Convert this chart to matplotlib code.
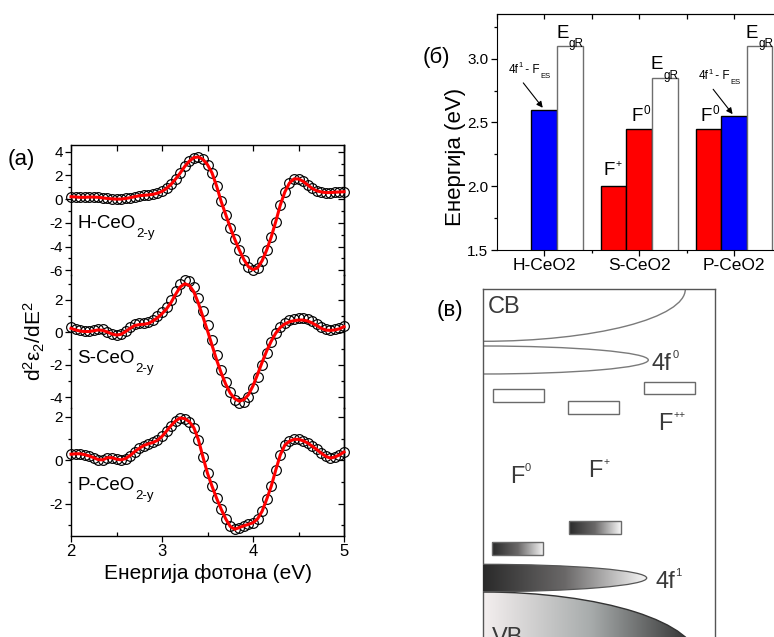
import numpy as np
import matplotlib
matplotlib.use('Agg')
import matplotlib.pyplot as plt
from matplotlib.patches import Rectangle, Ellipse, Arc
from matplotlib.ticker import MultipleLocator, FixedLocator, FormatStrFormatter
from matplotlib.colors import LinearSegmentedColormap

plt.rcParams['font.family'] = ['Liberation Sans', 'DejaVu Sans']
plt.rcParams['mathtext.default'] = 'regular'
plt.rcParams['axes.unicode_minus'] = False

# ---------------- data: panel (a) ----------------
energy = [2.00, 2.05, 2.10, 2.15, 2.20, 2.25, 2.30, 2.35, 2.40, 2.45,
          2.50, 2.55, 2.60, 2.65, 2.70, 2.75, 2.80, 2.85, 2.90, 2.95,
          3.00, 3.05, 3.10, 3.15, 3.20, 3.25, 3.30, 3.35, 3.40, 3.45,
          3.50, 3.55, 3.60, 3.65, 3.70, 3.75, 3.80, 3.85, 3.90, 3.95,
          4.00, 4.05, 4.10, 4.15, 4.20, 4.25, 4.30, 4.35, 4.40, 4.45,
          4.50, 4.55, 4.60, 4.65, 4.70, 4.75, 4.80, 4.85, 4.90, 4.95, 5.00]

h_data = [0.20, 0.18, 0.15, 0.15, 0.17, 0.17, 0.15, 0.10, 0.05, 0.02,
          0.00, 0.00, 0.05, 0.12, 0.20, 0.28, 0.32, 0.35, 0.40, 0.50,
          0.65, 0.90, 1.25, 1.70, 2.20, 2.75, 3.20, 3.50, 3.55, 3.35,
          2.90, 2.20, 1.10, -0.20, -1.30, -2.40, -3.40, -4.30, -5.10, -5.70,
          -5.95, -5.80, -5.20, -4.30, -3.20, -1.90, -0.50, 0.60, 1.35, 1.70,
          1.70, 1.50, 1.20, 0.90, 0.70, 0.60, 0.55, 0.55, 0.58, 0.60, 0.62]
h_fit = h_data

s_data = [0.30, 0.20, 0.12, 0.08, 0.10, 0.15, 0.22, 0.18, 0.05, -0.08,
          -0.15, -0.08, 0.10, 0.32, 0.50, 0.55, 0.55, 0.62, 0.78, 1.00,
          1.25, 1.55, 2.00, 2.55, 3.00, 3.22, 3.15, 2.80, 2.15, 1.30,
          0.45, -0.45, -1.40, -2.30, -3.05, -3.70, -4.15, -4.38, -4.30, -4.00,
          -3.45, -2.75, -2.00, -1.25, -0.60, -0.05, 0.32, 0.58, 0.75, 0.85,
          0.90, 0.90, 0.82, 0.68, 0.50, 0.30, 0.18, 0.15, 0.18, 0.25, 0.38]
s_fit = [0.25, 0.15, 0.08, 0.05, 0.05, 0.10, 0.15, 0.12, 0.02, -0.10,
         -0.17, -0.12, 0.05, 0.25, 0.42, 0.48, 0.50, 0.55, 0.70, 0.90,
         1.15, 1.45, 1.85, 2.35, 2.80, 3.00, 2.90, 2.50, 1.80, 0.95,
         0.10, -0.80, -1.70, -2.50, -3.20, -3.75, -4.10, -4.25, -4.15, -3.85,
         -3.30, -2.60, -1.85, -1.15, -0.55, -0.05, 0.30, 0.52, 0.65, 0.72,
         0.76, 0.76, 0.70, 0.58, 0.42, 0.25, 0.14, 0.12, 0.15, 0.22, 0.35]

p_data = [0.28, 0.30, 0.30, 0.26, 0.20, 0.12, 0.03, 0.02, 0.12, 0.12,
          0.05, 0.02, 0.08, 0.22, 0.40, 0.55, 0.68, 0.76, 0.82, 0.92,
          1.10, 1.35, 1.60, 1.82, 1.95, 1.92, 1.78, 1.50, 0.95, 0.15,
          -0.60, -1.20, -1.75, -2.25, -2.70, -3.05, -3.18, -3.10, -3.02, -2.95,
          -2.88, -2.70, -2.35, -1.80, -1.20, -0.45, 0.25, 0.70, 0.88, 0.96,
          0.97, 0.90, 0.80, 0.65, 0.50, 0.33, 0.18, 0.10, 0.15, 0.25, 0.38]
p_fit = p_data

sample_names = ['H-CeO', 'S-CeO', 'P-CeO']
sample_sub = '2-y'

# ---------------- data: panel (б) ----------------
bar_groups = ['H-CeO2', 'S-CeO2', 'P-CeO2']
bar_values = [[2.60, 3.10], [2.00, 2.45, 2.85], [2.45, 2.55, 3.10]]
bar_kinds = [['4f', 'EgR'], ['F+', 'F0', 'EgR'], ['F0', '4f', 'EgR']]

# ---------------- figure ----------------
W, H = 774, 637
fig = plt.figure(figsize=(W / 100, H / 100), dpi=100)


def axes_px(left, top, right, bottom):
    return fig.add_axes([left / W, 1 - bottom / H, (right - left) / W, (bottom - top) / H])


def rich(ax, x, y, main, script, kind, size, ssize, color='black', transform=None,
         dx=0.5, **kw):
    t = ax.text(x, y, main, fontsize=size, color=color,
                transform=transform if transform is not None else ax.transData, **kw)
    if kind == 'sub':
        ax.annotate(script, xy=(1, 0), xycoords=t, xytext=(dx, size * 0.2),
                    textcoords='offset points', fontsize=ssize, color=color,
                    ha='left', va='top')
    else:
        ax.annotate(script, xy=(1, 1), xycoords=t, xytext=(dx, size * 0.12),
                    textcoords='offset points', fontsize=ssize, color=color,
                    ha='left', va='top')
    return t


# ---------------- panel (a) ----------------
ax_h = axes_px(71, 145, 344, 275)
ax_s = axes_px(71, 275, 344, 408)
ax_p = axes_px(71, 408, 344, 536)
panels = [(ax_h, h_data, h_fit, (-6.4, 4.56), 0.362),
          (ax_s, s_data, s_fit, (-4.67, 3.54), 0.338),
          (ax_p, p_data, p_fit, (-3.49, 2.41), 0.359)]

for i, (ax, dat, fit, yl, ylab) in enumerate(panels):
    ax.patch.set_visible(False)
    ax.plot(energy, dat, 'o', ms=7, mfc='none', mec='black', mew=0.85,
            clip_on=False, zorder=2)
    ax.plot(energy, fit, '-', color='red', lw=2.2, clip_on=False, zorder=3)
    ax.set_xlim(2, 5)
    ax.set_ylim(*yl)
    ax.yaxis.set_major_locator(MultipleLocator(2))
    ax.yaxis.set_minor_locator(MultipleLocator(1))
    ax.tick_params(axis='y', which='major', direction='out', length=4, width=0.9,
                   labelsize=11, pad=2, right=False)
    ax.tick_params(axis='y', which='minor', direction='out', length=2.5, width=0.9, right=False)
    sec = ax.secondary_yaxis('right')
    sec.yaxis.set_major_locator(MultipleLocator(2))
    sec.yaxis.set_minor_locator(MultipleLocator(1))
    sec.tick_params(which='major', direction='in', length=4, width=0.9, labelright=False)
    sec.tick_params(which='minor', direction='in', length=2.5, width=0.9)
    for sp in ax.spines.values():
        sp.set_linewidth(1.0)
    sec.spines['right'].set_linewidth(1.0)
    rich(ax, 0.022, ylab, sample_names[i], sample_sub, 'sub', 13.5, 9.5,
         transform=ax.transAxes, va='baseline', ha='left')

ax_h.spines['bottom'].set_visible(False)
ax_h.xaxis.set_major_locator(MultipleLocator(0.5))
ax_h.tick_params(axis='x', which='both', direction='in', top=True, bottom=False,
                 labelbottom=False, length=4, width=0.9)
ax_s.spines['bottom'].set_visible(False)
ax_s.spines['top'].set_visible(False)
ax_s.tick_params(axis='x', which='both', top=False, bottom=False, labelbottom=False)
ax_p.spines['top'].set_visible(False)
ax_p.xaxis.set_major_locator(MultipleLocator(1))
ax_p.xaxis.set_minor_locator(MultipleLocator(0.5))
ax_p.tick_params(axis='x', which='major', direction='out', length=4, width=0.9,
                 labelsize=12, pad=2)
ax_p.tick_params(axis='x', which='minor', direction='in', length=3, width=0.9)

fig.text(34 / W, 1 - 341 / H, r'd$^2$ε$_2$/dE$^2$', rotation=90, fontsize=15,
         ha='center', va='center')
fig.text(208 / W, 1 - 573 / H, 'Енергија фотона (eV)', fontsize=15,
         ha='center', va='center')
fig.text(8 / W, 1 - 159 / H, '(a)', fontsize=16, ha='left', va='center')

# ---------------- panel (б) ----------------
ax_b = axes_px(496.7, 14, 781.5, 250)
colors = {'4f': '#0000ff', 'F+': '#ff0000', 'F0': '#ff0000', 'EgR': 'white'}
width = 0.27
for g, (vals, kinds) in enumerate(zip(bar_values, bar_kinds)):
    n = len(vals)
    center = g + 1
    for k, (v, kind) in enumerate(zip(vals, kinds)):
        x = center + (k - (n - 2)) * width
        ec = '#6e6e6e' if kind == 'EgR' else 'black'
        ax_b.bar(x, v, width=width, color=colors[kind], edgecolor=ec, linewidth=1.0,
                 zorder=2)
        if kind == 'EgR':
            rich(ax_b, x - 0.145, v + 0.065, 'E', 'gR', 'sub', 13.5, 8.5, dx=0.2,
                 va='baseline', ha='left')
        elif kind == 'F+':
            rich(ax_b, x - 0.11, v + 0.09, 'F', '+', 'sup', 13.5, 7.5, va='baseline', ha='left')
        elif kind == 'F0':
            rich(ax_b, x - 0.085, v + 0.065, 'F', '0', 'sup', 13.5, 8.5, va='baseline', ha='left')
        elif kind == '4f':
            t = ax_b.text(x - 0.27, v + 0.29, '4f', fontsize=8.5, ha='right', va='baseline')
            ax_b.annotate('1', xy=(1, 1), xycoords=t, xytext=(0.3, 1.0),
                          textcoords='offset points', fontsize=5.5, va='top')
            t2 = ax_b.annotate(' - F', xy=(1, 0), xycoords=t, xytext=(2.5, 0),
                               textcoords='offset points', fontsize=8.5, va='bottom')
            ax_b.annotate('ES', xy=(1, 0), xycoords=t2, xytext=(0.5, 2.2),
                          textcoords='offset points', fontsize=5.5, va='top')
            ax_b.annotate('', xy=(x - 0.015, v + 0.015), xytext=(x - 0.22, v + 0.21),
                          arrowprops=dict(arrowstyle='-|>', color='black', lw=0.8,
                                          mutation_scale=9, shrinkA=0, shrinkB=0))

ax_b.set_xlim(0.5, 3.5)
ax_b.set_ylim(1.5, 3.35)
ax_b.xaxis.set_major_locator(FixedLocator([1, 2, 3]))
ax_b.set_xticklabels(bar_groups)
ax_b.xaxis.set_minor_locator(FixedLocator([1.5, 2.5]))
ax_b.yaxis.set_major_locator(MultipleLocator(0.5))
ax_b.yaxis.set_minor_locator(MultipleLocator(0.25))
ax_b.yaxis.set_major_formatter(FormatStrFormatter('%.1f'))
ax_b.tick_params(axis='x', which='major', direction='out', length=4, width=0.9,
                 labelsize=12.5, pad=2)
ax_b.tick_params(axis='x', which='minor', direction='out', length=2.5, width=0.9)
ax_b.tick_params(axis='y', which='major', direction='out', length=4, width=0.9,
                 labelsize=11, pad=2)
ax_b.tick_params(axis='y', which='minor', direction='out', length=2.5, width=0.9)
secb = ax_b.secondary_xaxis('top')
secb.xaxis.set_major_locator(MultipleLocator(0.5))
secb.tick_params(direction='in', length=3.5, width=0.9, labeltop=False)
fig.text(455 / W, 1 - 157 / H, 'Енергија (eV)', rotation=90, fontsize=16,
         ha='center', va='center')
fig.text(423 / W, 1 - 57 / H, '(б)', fontsize=16, ha='left', va='center')

# ---------------- panel (в) : schematic ----------------
ax_c = axes_px(483.3, 289.3, 715, 637)
ax_c.set_xticks([])
ax_c.set_yticks([])
for sp in ax_c.spines.values():
    sp.set_color('#555555')
    sp.set_linewidth(1.0)
ax_c.spines['bottom'].set_visible(False)

grad = np.linspace(0, 1, 256).reshape(1, -1)
dark_light = LinearSegmentedColormap.from_list('dl', ['#2a2a2a', '#6a6868', '#f6f6f6'])
light_dark = LinearSegmentedColormap.from_list('ld', ['#f4efef', '#a8acac', '#2a2a2a'])
txtc = '#3a3a3a'

# conduction band
ax_c.add_patch(Arc((0, 0), 404, 104, theta1=0, theta2=90, color='#7a7a7a', lw=1.0))
# 4f0 band
ax_c.add_patch(Ellipse((0, 70.7), 330, 28, fc='none', ec='#7a7a7a', lw=1.0))
# empty defect levels
for (x0, y0, w, h) in [(10, 100, 51, 13), (85, 111.7, 50.7, 13), (161, 92.4, 50.7, 12.6)]:
    ax_c.add_patch(Rectangle((x0, y0), w, h, fc='white', ec='#6a6a6a', lw=1.0))
# filled defect levels (gradient)
for (x0, y0, w, h) in [(8.4, 253, 51, 12.7), (86, 231.7, 51.4, 13)]:
    ax_c.imshow(grad, extent=(x0, x0 + w, y0 + h, y0), cmap=dark_light, aspect='auto',
                zorder=2)
    ax_c.add_patch(Rectangle((x0, y0), w, h, fc='none', ec='#6a6a6a', lw=1.0, zorder=3))
# valence band
vb = Ellipse((0, 370.7), 429.2, 136, fc='none', ec='#333333', lw=1.0, zorder=3)
ax_c.add_patch(vb)
im_vb = ax_c.imshow(grad, extent=(0, 215, 347.7, 302.7), cmap=light_dark, aspect='auto',
                    zorder=2)
im_vb.set_clip_path(vb)
# 4f1 band
f1 = Ellipse((0, 288.7), 326.8, 27.4, fc='none', ec='#555555', lw=0.9, zorder=4)
ax_c.add_patch(f1)
im_f1 = ax_c.imshow(grad, extent=(0, 163.4, 302.4, 275), cmap=dark_light, aspect='auto',
                    zorder=3)
im_f1.set_clip_path(f1)

ax_c.set_xlim(0, 231.7)
ax_c.set_ylim(347.7, 0)

ax_c.text(4.7, 6.5, 'CB', fontsize=17, color=txtc, ha='left', va='top')
ax_c.text(8.7, 355, 'VB', fontsize=17, color=txtc, ha='left', va='baseline')
rich(ax_c, 168.7, 81, '4f', '0', 'sup', 17, 8, color=txtc, ha='left', va='baseline')
rich(ax_c, 26.7, 194, 'F', '0', 'sup', 17, 8, color=txtc, ha='left', va='baseline')
rich(ax_c, 104.7, 188, 'F', '+', 'sup', 17, 7.5, color=txtc, ha='left', va='baseline')
rich(ax_c, 174.7, 141, 'F', '++', 'sup', 17, 7.5, color=txtc, ha='left', va='baseline')
rich(ax_c, 171.7, 299, '4f', '1', 'sup', 17, 8, color=txtc, ha='left', va='baseline')
fig.text(437 / W, 1 - 310 / H, '(в)', fontsize=16, ha='left', va='center')

fig.savefig('out.png', dpi=100)
